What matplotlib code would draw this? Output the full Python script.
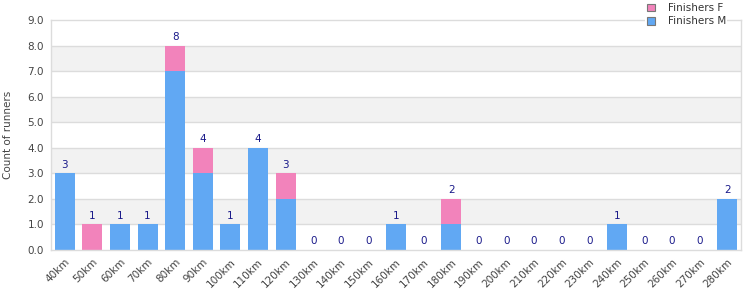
import matplotlib
matplotlib.use("Agg")
import matplotlib.pyplot as plt
from matplotlib.patches import Patch

categories = ["40km", "50km", "60km", "70km", "80km", "90km", "100km", "110km", "120km",
              "130km", "140km", "150km", "160km", "170km", "180km", "190km", "200km",
              "210km", "220km", "230km", "240km", "250km", "260km", "270km", "280km"]
finishers_m = [3, 0, 1, 1, 7, 3, 1, 4, 2, 0, 0, 0, 1, 0, 1, 0, 0, 0, 0, 0, 1, 0, 0, 0, 2]
finishers_f = [0, 1, 0, 0, 1, 1, 0, 0, 1, 0, 0, 0, 0, 0, 1, 0, 0, 0, 0, 0, 0, 0, 0, 0, 0]
y_ticks = [0, 1, 2, 3, 4, 5, 6, 7, 8, 9]

blue = "#61a8f3"
pink = "#f283bb"
grid_c = "#dcdcdc"
band_c = "#f2f2f2"
text_c = "#444444"
label_c = "#1a1a8a"

fig = plt.figure(figsize=(7.5, 3.0), dpi=100)
ax = fig.add_axes([51/750, 50/300, 690/750, 230/300])

x = list(range(len(categories)))
for lo in [1, 3, 5, 7]:
    ax.axhspan(lo, lo + 1, color=band_c, zorder=0, lw=0)
for t in y_ticks[1:-1]:
    ax.axhline(t, color=grid_c, lw=1, zorder=1)

ax.bar(x, finishers_m, width=0.72, color=blue, zorder=2)
ax.bar(x, finishers_f, width=0.72, bottom=finishers_m, color=pink, zorder=2)

for i in x:
    tot = finishers_m[i] + finishers_f[i]
    ax.text(i, tot + 0.15, str(tot), ha="center", va="bottom", fontsize=7.5, color=label_c)

ax.set_xlim(-0.5, len(categories) - 0.5)
ax.set_ylim(0, 9)
ax.set_yticks(y_ticks)
ax.set_yticklabels([f"{t:.1f}" for t in y_ticks], fontsize=7.5, color=text_c)
ax.set_xticks(x)
ax.set_xticklabels(categories, rotation=45, ha="right", rotation_mode="anchor",
                   fontsize=7.5, color=text_c)
ax.tick_params(axis="both", length=0, pad=5)
ax.set_ylabel("Count of runners", fontsize=7.5, color=text_c)
ax.yaxis.set_label_coords((13 - 51) / 690, 0.5)
for s in ax.spines.values():
    s.set_color(grid_c)
    s.set_linewidth(1)

handles = [Patch(facecolor=pink, edgecolor="#777777", lw=0.8, label="Finishers F"),
           Patch(facecolor=blue, edgecolor="#777777", lw=0.8, label="Finishers M")]
leg = fig.legend(handles=handles, loc="upper right", bbox_to_anchor=(0.972, 1.0),
                 fontsize=7.5, frameon=True, facecolor="white", edgecolor="none",
                 framealpha=1, handlelength=0.8, handleheight=0.8, handletextpad=1.2,
                 labelspacing=0.3, borderpad=0.15, borderaxespad=0.15)
for t in leg.get_texts():
    t.set_color("#333333")

fig.savefig("out.png", dpi=100)
